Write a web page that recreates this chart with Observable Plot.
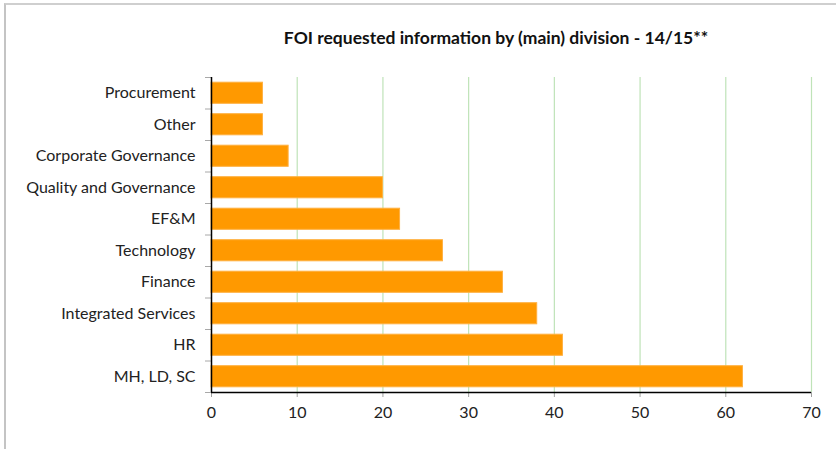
<!DOCTYPE html>
<html>
<head>
<meta charset="utf-8">
<script src="https://cdn.jsdelivr.net/npm/d3@7"></script>
<script src="https://cdn.jsdelivr.net/npm/@observablehq/plot@0.6"></script>
<style>
  html, body { margin: 0; padding: 0; background: #fff; }
  #wrap { position: relative; width: 836px; height: 449px; overflow: hidden; font-family: Lato, "Open Sans", sans-serif; }
  #frame { position: absolute; left: 4px; top: 3px; width: 900px; height: 500px; border-top: 2px solid #cfcfcf; border-left: 2px solid #c4c4c4; pointer-events: none; }
  #title { position: absolute; left: 0; top: 0; width: 836px; height: 60px; box-sizing: border-box; padding-top: 27px; padding-left: 156px; text-align: center; font-weight: bold; font-size: 17.5px; line-height: 22px; color: #111; }
  #chart { position: absolute; left: 0; top: 60px; }
</style>
</head>
<body>
<div id="wrap">
  <div id="frame"></div>
  <div id="title">FOI requested information by (main) division - 14/15**</div>
  <div id="chart"></div>
</div>
<script>
const divisions = ["Procurement", "Other", "Corporate Governance", "Quality and Governance", "EF&M", "Technology", "Finance", "Integrated Services", "HR", "MH, LD, SC"];
const requests = [6, 6, 9, 20, 22, 27, 34, 38, 41, 62];
const xTicks = [0, 10, 20, 30, 40, 50, 60, 70];

const data = divisions.map((d, i) => ({division: d, value: requests[i]}));
const halfStep = 15.75;
const lastDivision = divisions[divisions.length - 1];

const chart = Plot.plot({
  width: 836,
  height: 389,
  marginTop: 17,
  marginBottom: 57,
  marginLeft: 211,
  marginRight: 25,
  style: {fontFamily: "Lato, 'Open Sans', sans-serif", fontSize: "16px", color: "#222", background: "transparent"},
  x: {domain: [0, 70]},
  y: {domain: divisions, paddingInner: 0.33, paddingOuter: 0.165, round: false},
  marks: [
    Plot.ruleX(xTicks.filter(t => t > 0), {stroke: "#bfe3b8", strokeWidth: 1.2}),
    Plot.barX(data, {y: "division", x: "value", fill: "#ff9900", stroke: "#ffb040", strokeWidth: 1}),
    Plot.axisY({tickSize: 0, tickPadding: 16, label: null, fill: "#222"}),
    Plot.axisY({tickSize: 6, tickFormat: () => "", label: null, dy: halfStep, stroke: "#a8a8a8"}),
    Plot.axisY([divisions[0]], {tickSize: 6, tickFormat: () => "", label: null, dy: -halfStep, stroke: "#a8a8a8"}),
    Plot.axisX({ticks: xTicks, tickSize: 5, tickPadding: 9, label: null, stroke: "#a0a0a0", fill: "#222"}),
    Plot.ruleY([lastDivision], {y: d => d, dy: halfStep, x1: 0, x2: 70, stroke: "#000", strokeWidth: 1.5}),
    Plot.ruleX([0], {stroke: "#000", strokeWidth: 1.5})
  ]
});
document.getElementById("chart").appendChild(chart);
</script>
</body>
</html>
